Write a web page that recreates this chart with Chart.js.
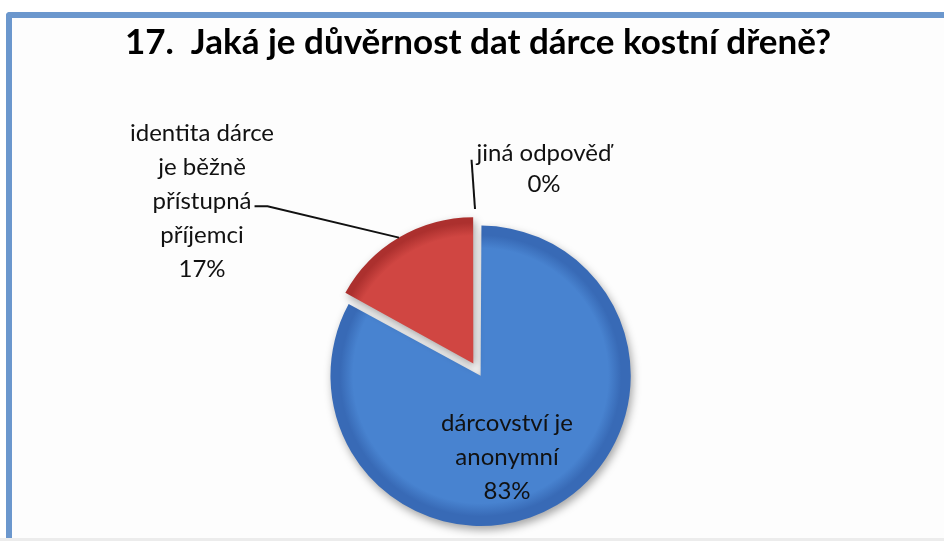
<!DOCTYPE html>
<html lang="cs">
<head>
<meta charset="utf-8">
<title>Důvěrnost dat dárce kostní dřeně</title>
<script src="https://cdn.jsdelivr.net/npm/chart.js@4.4.1/dist/chart.umd.min.js"></script>
<style>
  html, body { margin: 0; padding: 0; background: #fff; width: 944px; height: 541px; overflow: hidden; }
  #frame {
    position: absolute; left: 6px; top: 12px; width: 990px; height: 526px;
    border-left: 6px solid #6b97cd; border-top: 6px solid #6b97cd;
    border-top-left-radius: 4px; box-sizing: border-box; background: #fdfdfd;
  }
  #floor { position: absolute; left: 0; top: 538px; width: 944px; height: 3px; background: #ececec; }
  #wrap { position: absolute; left: 0; top: 0; width: 944px; height: 541px; }
</style>
</head>
<body>
<div id="frame"></div>
<div id="floor"></div>
<div id="wrap"><canvas id="chart"></canvas></div>
<script>
// Answers to question 17 and their shares in percent
const titleText = '17.  Jaká je důvěrnost dat dárce kostní dřeně?';
const categories = ['dárcovství je anonymní', 'identita dárce je běžně přístupná příjemci', 'jiná odpověď'];
const percents = [83, 17, 0];
// How each category name is broken into lines in its label
const labelLines = [
  ['dárcovství je', 'anonymní'],
  ['identita dárce', 'je běžně', 'přístupná', 'příjemci'],
  ['jiná odpověď']
];

// Styling
const sliceColors = [
  ['rgb(72,131,208)', 'rgb(56,106,182)'],
  ['rgb(208,70,66)', 'rgb(172,48,46)'],
  ['rgb(155,187,89)', 'rgb(118,146,60)']
];
const PIE_RADIUS = 145;
const LABEL_FONT = '24px Lato';
const LINE_STEP = 34;
// Label anchors, relative to the pie centre; leader says which line the leader starts from
const labelPlacement = [
  { dx: 29, dy: 86 },
  { dx: -276, dy: -170, leader: 2, side: 'right' },
  { dx: 66, dy: -203, leader: 0, side: 'left', lineStep: 31 }
];

function sliceFill(context) {
  const i = context.dataIndex;
  const chart = context.chart;
  const a = chart.chartArea;
  if (!a) return sliceColors[i][0];
  const cx = (a.left + a.right) / 2, cy = (a.top + a.bottom) / 2;
  const g = chart.ctx.createRadialGradient(cx, cy, 0, cx, cy, PIE_RADIUS);
  g.addColorStop(0, sliceColors[i][0]);
  g.addColorStop(0.88, sliceColors[i][0]);
  g.addColorStop(0.97, sliceColors[i][1]);
  g.addColorStop(1, sliceColors[i][1]);
  return g;
}

// Same displacement the arc element applies to an exploded slice
function sliceShift(arc) {
  const off = (arc.options.offset || 0) / 4;
  const circ = arc.endAngle - arc.startAngle;
  const fix = 1 - Math.sin(Math.min(Math.PI, circ));
  const t = off * (1 + fix);
  const h = (arc.startAngle + arc.endAngle) / 2;
  return { dx: Math.cos(h) * t, dy: Math.sin(h) * t, h };
}

const sliceShadow = {
  id: 'sliceShadow',
  beforeDatasetsDraw(chart) {
    const ctx = chart.ctx;
    ctx.save();
    ctx.shadowColor = 'rgba(0,0,0,0.35)';
    ctx.shadowBlur = 8;
    ctx.shadowOffsetX = 2;
    ctx.shadowOffsetY = 4;
  },
  afterDatasetsDraw(chart) {
    chart.ctx.restore();
  }
};

const sliceLabels = {
  id: 'sliceLabels',
  afterDatasetsDraw(chart) {
    const ctx = chart.ctx;
    const meta = chart.getDatasetMeta(0);
    ctx.save();
    ctx.font = LABEL_FONT;
    ctx.fillStyle = '#111';
    ctx.strokeStyle = '#111';
    ctx.lineWidth = 2;
    ctx.textAlign = 'center';
    ctx.textBaseline = 'middle';
    meta.data.forEach((arc, i) => {
      const place = labelPlacement[i];
      const lines = labelLines[i].concat([percents[i] + '%']);
      const step = place.lineStep || LINE_STEP;
      const ax = arc.x + place.dx, ay = arc.y + place.dy;
      const ys = lines.map((_, k) => ay + (k - (lines.length - 1) / 2) * step);
      lines.forEach((ln, k) => ctx.fillText(ln, ax, ys[k]));
      if (place.leader === undefined) return;
      const s = sliceShift(arc);
      const w = ctx.measureText(lines[place.leader]).width;
      ctx.beginPath();
      if (place.side === 'right') {
        const x0 = ax + w / 2 + 3, y0 = ys[place.leader] + 5;
        ctx.moveTo(x0, y0);
        ctx.lineTo(x0 + 13, y0);
        ctx.lineTo(arc.x + s.dx + Math.cos(s.h) * PIE_RADIUS, arc.y + s.dy + Math.sin(s.h) * PIE_RADIUS);
      } else {
        const x0 = ax - w / 2 - 5, y0 = ys[place.leader] + 7;
        ctx.moveTo(x0, y0);
        ctx.lineTo(arc.x + s.dx + Math.cos(s.h) * (PIE_RADIUS + 7) - 3, arc.y + s.dy + Math.sin(s.h) * (PIE_RADIUS + 7));
      }
      ctx.stroke();
    });
    ctx.restore();
  }
};

new Chart(document.getElementById('chart'), {
  type: 'pie',
  data: {
    labels: categories,
    datasets: [{
      data: percents,
      backgroundColor: sliceFill,
      borderWidth: 0,
      offset: [20.6, 36.7, 20.6],
      hoverOffset: 0
    }]
  },
  options: {
    responsive: true,
    maintainAspectRatio: false,
    animation: false,
    events: [],
    radius: PIE_RADIUS,
    layout: { padding: { left: 12, right: 0, top: 0, bottom: 0 } },
    plugins: {
      legend: { display: false },
      tooltip: { enabled: false },
      title: {
        display: true,
        text: titleText,
        color: '#000',
        font: { family: 'Lato', size: 35, weight: 'bold', lineHeight: 1.2 },
        padding: { top: 22, bottom: 137.6 }
      }
    }
  },
  plugins: [sliceShadow, sliceLabels]
});
</script>
</body>
</html>
